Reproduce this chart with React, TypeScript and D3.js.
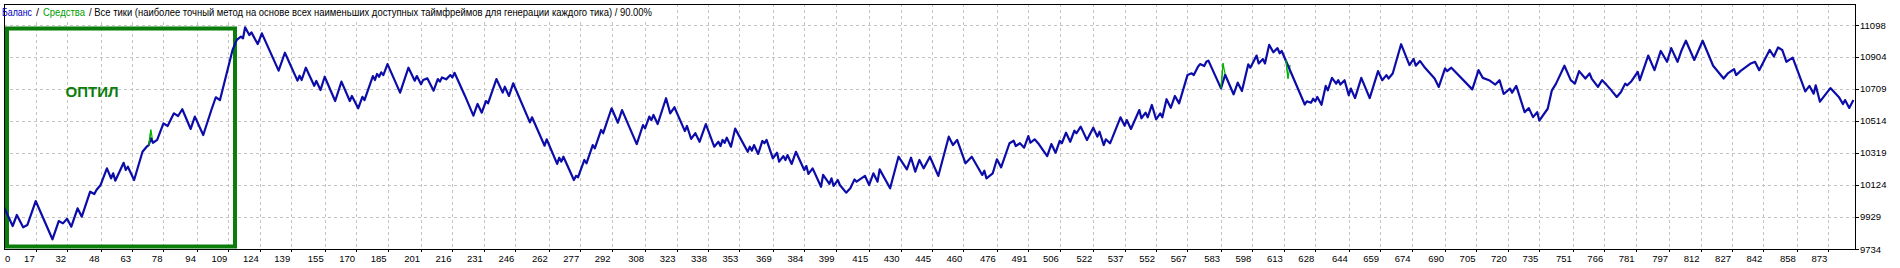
import React from "react";
import * as d3 from "d3";

const xTickLabels = [0, 17, 32, 48, 63, 78, 94, 109, 124, 139, 155, 170, 185, 201, 216, 231, 246, 262, 277, 292, 308, 323, 338, 353, 369, 384, 399, 415, 430, 445, 460, 476, 491, 506, 522, 537, 552, 567, 583, 598, 613, 628, 644, 659, 674, 690, 705, 720, 735, 751, 766, 781, 797, 812, 827, 842, 858, 873];
const yTickLabels = [9734, 9929, 10124, 10319, 10514, 10709, 10904, 11098];

const balanceIdx = [
  2, 6, 8, 11, 13, 17, 25, 28, 30, 32, 34, 37, 39, 43, 45, 46, 48, 51, 53, 54, 55, 59, 60, 61, 64, 68, 70, 71, 72, 73, 75, 78, 80, 81, 83, 85, 87, 91, 93, 97, 101, 103, 105, 111, 113, 115, 116, 117, 119, 120, 123, 125,
  133, 136, 142, 143, 144, 146, 150, 151, 153, 155, 160, 163, 167, 168, 171, 173, 174, 178, 179, 180, 181, 182, 183, 185, 191, 195, 198, 199, 201, 202, 204, 207, 209, 210, 211, 213, 215, 216, 217, 222, 226, 228, 230, 232, 233, 237, 240, 241, 243, 245, 253, 254, 260, 261, 266, 267, 268, 269, 274, 275, 276, 279, 280, 283, 284, 287, 288, 292, 295, 297, 304, 307, 308, 310, 311, 312, 314, 318, 320, 322, 327, 328, 330, 332, 334, 337, 341, 343, 344, 345, 346, 347, 349, 351, 357,
  358, 359, 360, 362, 364, 365, 366, 369, 371, 372, 374, 375, 376, 378, 380, 384, 385, 386, 388, 392, 393, 396, 397, 398, 400, 401, 404, 406, 408, 409, 413, 415, 417, 419, 420, 425, 429, 433, 435, 437, 439, 441, 444, 448, 453, 455, 457, 461, 464, 469, 470, 471, 474, 476, 478, 482, 484, 485, 487, 489, 491, 492, 494, 496, 500, 502, 504, 506, 507, 509, 511, 513, 514, 516, 519, 522, 524, 525, 527, 528, 530, 531, 535, 537, 538, 540, 544, 545, 547, 548, 550, 552, 554, 555, 557, 559, 561, 563, 567, 569, 570, 572, 573, 575, 576, 577, 583, 585, 589, 591,
  593, 596, 597, 600, 601, 603, 604, 606, 608, 610, 611, 612, 623, 624, 626, 627, 628, 629, 631, 633, 634, 636, 638, 639, 640, 642, 644, 645, 647, 650, 654, 658, 660, 662, 663, 665, 669, 673, 675, 676, 678, 680, 685, 687, 690, 691, 693, 703, 706, 708, 711, 714, 716, 718, 721, 722, 724, 728, 730, 732, 734, 735, 739, 741, 743, 747, 750, 752, 754, 757, 759, 760, 763, 765, 767, 769, 772, 774, 776, 777, 779, 782, 783, 787, 790, 793, 796, 798, 801, 803, 805, 809, 813, 818, 823, 825, 828, 829, 831, 836, 838, 840, 845, 847, 849, 851, 853, 856, 862, 864, 866, 867, 869, 874, 878, 880, 881, 883, 885,
];
const balanceVal = [
  9985, 9874, 9941, 9866, 9880, 10026, 9793, 9904, 9890, 9918, 9870, 9982, 9931, 10083, 10069, 10093, 10124, 10225, 10164, 10195, 10150, 10259, 10215, 10235, 10154, 10326, 10357, 10367, 10408, 10381, 10398, 10499, 10483, 10509, 10560, 10544, 10585, 10465, 10540, 10428, 10585, 10658, 10641, 10946, 11007, 11027, 11017, 11084, 11037, 11053, 10982, 11047,
  10820, 10929, 10759, 10789, 10763, 10838, 10728, 10757, 10702, 10783, 10635, 10753, 10635, 10666, 10591, 10661, 10641, 10787, 10763, 10800, 10783, 10810, 10793, 10860, 10686, 10838, 10759, 10787, 10737, 10763, 10773, 10698, 10769, 10753, 10779, 10767, 10793, 10779, 10807, 10666, 10546, 10617, 10564, 10635, 10621, 10769, 10686, 10722, 10666, 10743, 10505, 10536, 10363, 10402, 10252, 10290, 10266, 10296, 10154, 10179, 10171, 10276, 10256, 10367, 10347, 10459, 10439, 10591, 10503, 10580, 10373, 10489, 10469, 10540, 10519, 10550, 10495, 10652, 10560, 10597, 10452, 10483, 10404, 10439, 10387, 10495, 10357, 10387, 10361, 10398, 10381, 10412, 10357, 10467, 10326,
  10357, 10333, 10367, 10313, 10392, 10378, 10398, 10286, 10320, 10266, 10300, 10276, 10306, 10252, 10326, 10215, 10239, 10191, 10225, 10113, 10185, 10130, 10164, 10118, 10154, 10124, 10077, 10104, 10158, 10144, 10179, 10124, 10195, 10144, 10219, 10104, 10296, 10219, 10290, 10205, 10276, 10225, 10296, 10179, 10418, 10367, 10398, 10256, 10296, 10185, 10211, 10164, 10195, 10280, 10231, 10378, 10393, 10361, 10378, 10351, 10422, 10381, 10402, 10373, 10300, 10373, 10320, 10393, 10378, 10442, 10387, 10454, 10439, 10479, 10398, 10473, 10418, 10448, 10367, 10402, 10378, 10408, 10536, 10485, 10519, 10465, 10580, 10530, 10564, 10536, 10611, 10524, 10560, 10536, 10646, 10594, 10666, 10621, 10793, 10804, 10793, 10844, 10860, 10848, 10874, 10881, 10712, 10795, 10676, 10747,
  10696, 10858, 10838, 10912, 10864, 10891, 10864, 10977, 10932, 10957, 10926, 10940, 10614, 10633, 10625, 10649, 10633, 10660, 10612, 10727, 10700, 10776, 10741, 10762, 10735, 10762, 10670, 10711, 10653, 10776, 10653, 10817, 10762, 10793, 10772, 10803, 10981, 10854, 10891, 10850, 10879, 10844, 10772, 10721, 10834, 10817, 10838, 10706, 10823, 10776, 10762, 10735, 10762, 10678, 10711, 10686, 10727, 10567, 10592, 10537, 10567, 10516, 10588, 10700, 10741, 10850, 10762, 10741, 10817, 10772, 10803, 10772, 10721, 10762, 10735, 10706, 10660, 10690, 10741, 10731, 10756, 10813, 10762, 10912, 10823, 10940, 10874, 10957, 10874, 10946, 11002, 10885, 11002, 10850, 10772, 10803, 10829, 10793, 10817, 10864, 10874, 10823, 10946, 10906, 10961, 10946, 10874, 10899, 10694, 10727, 10680, 10731, 10631, 10714, 10660, 10617, 10641, 10593, 10641,
];

const equityIdxA = [71, 72, 73];
const equityValA = [10367, 10459, 10381];
const equityIdxB = [583, 584, 585];
const equityValB = [10712, 10865, 10795];
const equityIdxC = [614, 615, 616];
const equityValC = [10885, 10772, 10855];

const headerParts = [
  { text: "Баланс", x0: 2, x1: 32, color: "#0000c0" },
  { text: "/", x0: 36, x1: 39, color: "#000" },
  { text: "Средства", x0: 43, x1: 85, color: "#00a000" },
  { text: "/ Все тики (наиболее точный метод на основе всех наименьших доступных таймфреймов для генерации каждого тика) / 90.00%", x0: 89, x1: 652, color: "#000" },
];

const W = 1900;
const H = 268;
const L = 4;
const R = 1855;
const T = 4;
const B = 249;

export default function App() {
  const x = d3.scaleLinear().domain([17, 873]).range([35.7, 1828.3]);
  const y = d3.scaleLinear().domain([9734, 11098]).range([B, 25]);

  const line = d3
    .line<[number, number]>()
    .x((d) => x(d[0]))
    .y((d) => y(d[1]));

  const balance: [number, number][] = balanceIdx.map((v, i) => [v, balanceVal[i]]);
  const eq = [
    [equityIdxA, equityValA],
    [equityIdxB, equityValB],
    [equityIdxC, equityValC],
  ].map(([a, b]) => a.map((v, i) => [v, b[i]] as [number, number]));

  const font = "'Liberation Sans', Arial, sans-serif";

  return (
    <svg
      width={W}
      height={H}
      style={{ position: "absolute", left: 0, top: 0, background: "#fff" }}
    >
      <defs>
        <clipPath id="plot">
          <rect x={L} y={T} width={R - L} height={B - T} />
        </clipPath>
      </defs>
      <rect x={0} y={0} width={W} height={H} fill="#fff" />
      <g stroke="#c4c4c4" strokeWidth={1} strokeDasharray="3,3">
        {xTickLabels.slice(1).map((t) => {
          const px = Math.round(x(t)) + 0.5;
          return <line key={"gx" + t} x1={px} x2={px} y1={T} y2={B} />;
        })}
        {yTickLabels.slice(1).map((t) => {
          const py = Math.round(y(t)) + 0.5;
          return <line key={"gy" + t} x1={L} x2={R} y1={py} y2={py} />;
        })}
      </g>
      <rect x={7} y={28.5} width={228} height={218} fill="none" stroke="#0b7d0b" strokeWidth={4} />
      <text x={92} y={97} textAnchor="middle" fontFamily={font} fontWeight="bold" fontSize={15} fill="#0b7d0b">
        ОПТИЛ
      </text>
      <g clipPath="url(#plot)" fill="none" strokeLinejoin="round">
        {eq.map((s, i) => (
          <path key={"eq" + i} d={line(s) || ""} stroke="#00b400" strokeWidth={1.2} />
        ))}
        <path d={line(balance) || ""} stroke="#0c0ca8" strokeWidth={2.2} />
        {eq.map((s, i) => (
          <path key={"eq2" + i} d={line(s.slice(0, 2)) || ""} stroke="#00b400" strokeWidth={1.2} />
        ))}
      </g>
      <g stroke="#000" strokeWidth={1} fill="none">
        <line x1={L + 0.5} x2={L + 0.5} y1={T} y2={B + 1} />
        <line x1={R + 0.5} x2={R + 0.5} y1={T} y2={B + 1} />
        <line x1={L} x2={R + 1} y1={T + 0.5} y2={T + 0.5} />
        <line x1={L} x2={R + 1} y1={B + 0.5} y2={B + 0.5} />
        {yTickLabels.map((t) => {
          const py = Math.round(y(t)) + 0.5;
          return <line key={"ty" + t} x1={R} x2={R + 4} y1={py} y2={py} />;
        })}
        {xTickLabels.slice(1).map((t) => {
          const px = Math.round(x(t)) + 0.5;
          return <line key={"tx" + t} x1={px} x2={px} y1={B} y2={B + 3} />;
        })}
      </g>
      <g fontFamily={font} fontSize={9.5} fill="#000">
        {yTickLabels.map((t) => (
          <text key={"ly" + t} x={R + 5} y={y(t) + 3.5}>
            {t}
          </text>
        ))}
        {xTickLabels.map((t, i) =>
          i === 0 ? (
            <text key={"lx" + t} x={L + 1} y={262}>
              {t}
            </text>
          ) : (
            <text key={"lx" + t} x={x(t) - 1} y={262} textAnchor="end">
              {t}
            </text>
          )
        )}
      </g>
      <rect x={L + 1} y={T + 1} width={650} height={14} fill="#fff" />
      {headerParts.map((p) => (
        <text
          key={p.text}
          x={p.x0}
          y={16}
          fontFamily={font}
          fontSize={11}
          fill={p.color}
          textLength={p.x1 - p.x0}
          lengthAdjust="spacingAndGlyphs"
        >
          {p.text}
        </text>
      ))}
    </svg>
  );
}
